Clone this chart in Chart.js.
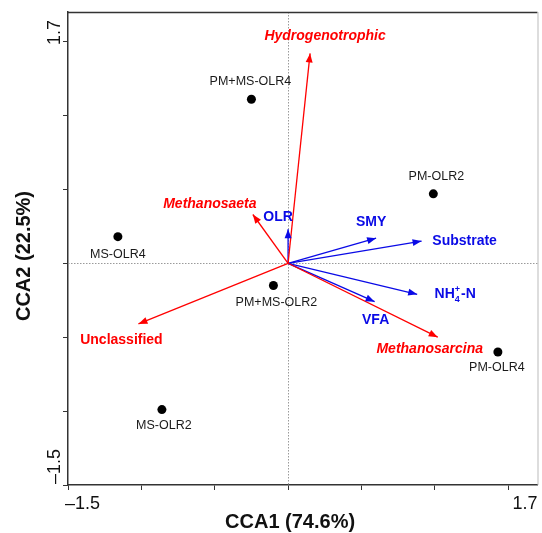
<!DOCTYPE html>
<html>
<head>
<meta charset="utf-8">
<script src="https://cdn.jsdelivr.net/npm/chart.js@4/dist/chart.umd.min.js"></script>
<style>
  body { margin: 0; background: #fff; }
  canvas { display: block; }
</style>
</head>
<body>
<canvas id="myChart" width="542" height="533"></canvas>
<script>
// CCA biplot: sample scores + species / environment arrows
const sampleNames = ['PM+MS-OLR4', 'PM-OLR2', 'MS-OLR4', 'PM+MS-OLR2', 'PM-OLR4', 'MS-OLR2'];
const sampleCCA1 = [-0.25, 0.99, -1.16, -0.10, 1.43, -0.86];
const sampleCCA2 = [1.11, 0.47, 0.18, -0.15, -0.60, -0.99];

const microbeNames = ['Hydrogenotrophic', 'Methanosaeta', 'Unclassified', 'Methanosarcina'];
const microbeCCA1 = [0.15, -0.24, -1.02, 1.02];
const microbeCCA2 = [1.42, 0.33, -0.41, -0.50];

const envNames = ['OLR', 'SMY', 'Substrate', 'NH4+-N', 'VFA'];
const envCCA1 = [0.0, 0.60, 0.91, 0.88, 0.59];
const envCCA2 = [0.23, 0.17, 0.15, -0.21, -0.26];

const axisMin = -1.5;
const axisMax = 1.7;
const tickValues = [-1.5, -1, -0.5, 0, 0.5, 1, 1.5];
const xTitle = 'CCA1 (74.6%)';
const yTitle = 'CCA2 (22.5%)';

// label offsets in px from the point / arrow tip
const sampleLabelOff = [[-1, -18], [3, -17], [0, 18], [3, 17], [-1, 16], [2, 16]];
const microbeLabelOff = [[15, -17], [-43, -10], [-17, 16], [-8, 12]];
const envLabelOff = [[-10, -12], [-5, -16], [43, 0], [38, 0], [1, 18]];
// genus names in italics, the rest upright
const microbeItalic = [true, true, false, true];

const RED = '#ff0000';
const BLUE = '#0a0ae6';
const FONT = 'Arial, "Liberation Sans", sans-serif';

let datasets = [];
microbeNames.forEach((n, i) => {
  datasets.push({ label: n, data: [{x: 0, y: 0}, {x: microbeCCA1[i], y: microbeCCA2[i]}],
    showLine: true, borderColor: RED, borderWidth: 1.3, pointRadius: 0, arrow: RED, txt: n,
    off: microbeLabelOff[i], italic: microbeItalic[i] });
});
envNames.forEach((n, i) => {
  datasets.push({ label: n, data: [{x: 0, y: 0}, {x: envCCA1[i], y: envCCA2[i]}],
    showLine: true, borderColor: BLUE, borderWidth: 1.3, pointRadius: 0, arrow: BLUE, txt: n,
    off: envLabelOff[i], italic: false });
});
datasets.push({ label: 'samples', data: sampleNames.map((n, i) => ({x: sampleCCA1[i], y: sampleCCA2[i]})),
  pointRadius: 4.5, pointBackgroundColor: '#000', pointBorderWidth: 0, sample: true });

function drawHead(ctx, x0, y0, x1, y1, color) {
  const a = Math.atan2(y1 - y0, x1 - x0);
  const L = 9, W = 3.5;
  const c = Math.cos(a), s = Math.sin(a);
  ctx.fillStyle = color;
  ctx.beginPath();
  ctx.moveTo(x1, y1);
  ctx.lineTo(x1 - L * c + W * s, y1 - L * s - W * c);
  ctx.lineTo(x1 - L * c - W * s, y1 - L * s + W * c);
  ctx.closePath();
  ctx.fill();
}

function drawNH4(ctx, cx, cy) {
  const big = 'bold 14px ' + FONT, small = 'bold 9px ' + FONT;
  ctx.font = big;
  const w1 = ctx.measureText('NH').width, w3 = ctx.measureText('-N').width;
  ctx.font = small;
  const w2 = Math.max(ctx.measureText('4').width, ctx.measureText('+').width) + 1;
  let x = cx - (w1 + w2 + w3) / 2;
  ctx.textAlign = 'left';
  ctx.font = big; ctx.fillText('NH', x, cy); x += w1;
  ctx.font = small;
  ctx.fillText('4', x, cy + 5);
  ctx.fillText('+', x, cy - 5);
  x += w2;
  ctx.font = big; ctx.fillText('-N', x, cy);
}

const overlay = {
  id: 'overlay',
  beforeDatasetsDraw(chart) {
    const {ctx, chartArea: a, scales} = chart;
    const x0 = scales.x.getPixelForValue(0), y0 = scales.y.getPixelForValue(0);
    ctx.save();
    // dotted zero lines
    ctx.strokeStyle = '#9a9a9a';
    ctx.lineWidth = 1;
    ctx.setLineDash([1.5, 1.5]);
    ctx.beginPath();
    ctx.moveTo(Math.round(x0) + 0.5, a.top); ctx.lineTo(Math.round(x0) + 0.5, a.bottom);
    ctx.moveTo(a.left, Math.round(y0) + 0.5); ctx.lineTo(a.right, Math.round(y0) + 0.5);
    ctx.stroke();
    ctx.setLineDash([]);
    // top and right frame
    ctx.strokeStyle = '#333';
    ctx.lineWidth = 1.5;
    ctx.beginPath();
    ctx.moveTo(a.left, a.top + 0.5); ctx.lineTo(a.right, a.top + 0.5);
    ctx.stroke();
    ctx.strokeStyle = '#bbb';
    ctx.lineWidth = 1;
    ctx.beginPath();
    ctx.moveTo(a.right + 0.5, a.top); ctx.lineTo(a.right + 0.5, a.bottom);
    ctx.stroke();
    ctx.restore();
  },
  afterDatasetsDraw(chart) {
    const {ctx, scales} = chart;
    ctx.save();
    ctx.textBaseline = 'middle';
    ctx.textAlign = 'center';
    chart.data.datasets.forEach((ds, i) => {
      const pts = chart.getDatasetMeta(i).data;
      if (ds.arrow) {
        drawHead(ctx, pts[0].x, pts[0].y, pts[1].x, pts[1].y, ds.arrow);
        const lx = pts[1].x + ds.off[0], ly = pts[1].y + ds.off[1];
        ctx.fillStyle = ds.arrow;
        if (ds.txt === 'NH4+-N') {
          drawNH4(ctx, lx, ly);
        } else {
          ctx.font = (ds.italic ? 'italic ' : '') + 'bold 14px ' + FONT;
          ctx.textAlign = 'center';
          ctx.fillText(ds.txt, lx, ly);
        }
      } else if (ds.sample) {
        ctx.fillStyle = '#1a1a1a';
        ctx.font = '12.5px ' + FONT;
        ctx.textAlign = 'center';
        pts.forEach((p, j) => {
          ctx.fillText(sampleNames[j], p.x + sampleLabelOff[j][0], p.y + sampleLabelOff[j][1]);
        });
      }
    });

    // end tick labels
    ctx.fillStyle = '#111';
    ctx.font = '18px ' + FONT;
    const xl = scales.x.getPixelForValue(axisMin), xr = scales.x.getPixelForValue(axisMax);
    ctx.textAlign = 'left';
    ctx.fillText('\u2013' + Math.abs(axisMin).toFixed(1), xl - 3, 504);
    ctx.textAlign = 'right';
    ctx.fillText(axisMax.toFixed(1), xr, 504);

    const yb = scales.y.getPixelForValue(axisMin), yt = scales.y.getPixelForValue(axisMax);
    ctx.save();
    ctx.translate(55, yt + 8);
    ctx.rotate(-Math.PI / 2);
    ctx.textAlign = 'right';
    ctx.fillText(axisMax.toFixed(1), 0, 0);
    ctx.restore();
    ctx.save();
    ctx.translate(55, yb - 1);
    ctx.rotate(-Math.PI / 2);
    ctx.textAlign = 'left';
    ctx.fillText('\u2013' + Math.abs(axisMin).toFixed(1), 0, 0);
    ctx.restore();

    // axis titles
    ctx.font = 'bold 20px ' + FONT;
    ctx.textAlign = 'center';
    ctx.fillText(xTitle, scales.x.getPixelForValue(0) + 2, 522);
    ctx.save();
    ctx.translate(24, 256);
    ctx.rotate(-Math.PI / 2);
    ctx.fillText(yTitle, 0, 0);
    ctx.restore();
    ctx.restore();
  }
};

function axis(pos, fit) {
  return {
    type: 'linear',
    position: pos,
    min: axisMin,
    max: axisMax,
    afterBuildTicks: s => { s.ticks = tickValues.map(v => ({value: v})); },
    afterFit: fit,
    ticks: { display: false },
    grid: { drawOnChartArea: false, drawTicks: true, tickLength: 5, color: '#333', lineWidth: 1 },
    border: { display: true, color: '#333', width: 1.5 }
  };
}

new Chart(document.getElementById('myChart').getContext('2d'), {
  type: 'scatter',
  data: { datasets: datasets },
  options: {
    responsive: false,
    animation: false,
    devicePixelRatio: 1,
    layout: { padding: { top: 12, right: 1, left: 0, bottom: 0 } },
    plugins: { legend: { display: false }, tooltip: { enabled: false } },
    scales: {
      x: axis('bottom', s => { s.height = 48; }),
      y: axis('left', s => { s.width = 68; })
    }
  },
  plugins: [overlay]
});
</script>
</body>
</html>
